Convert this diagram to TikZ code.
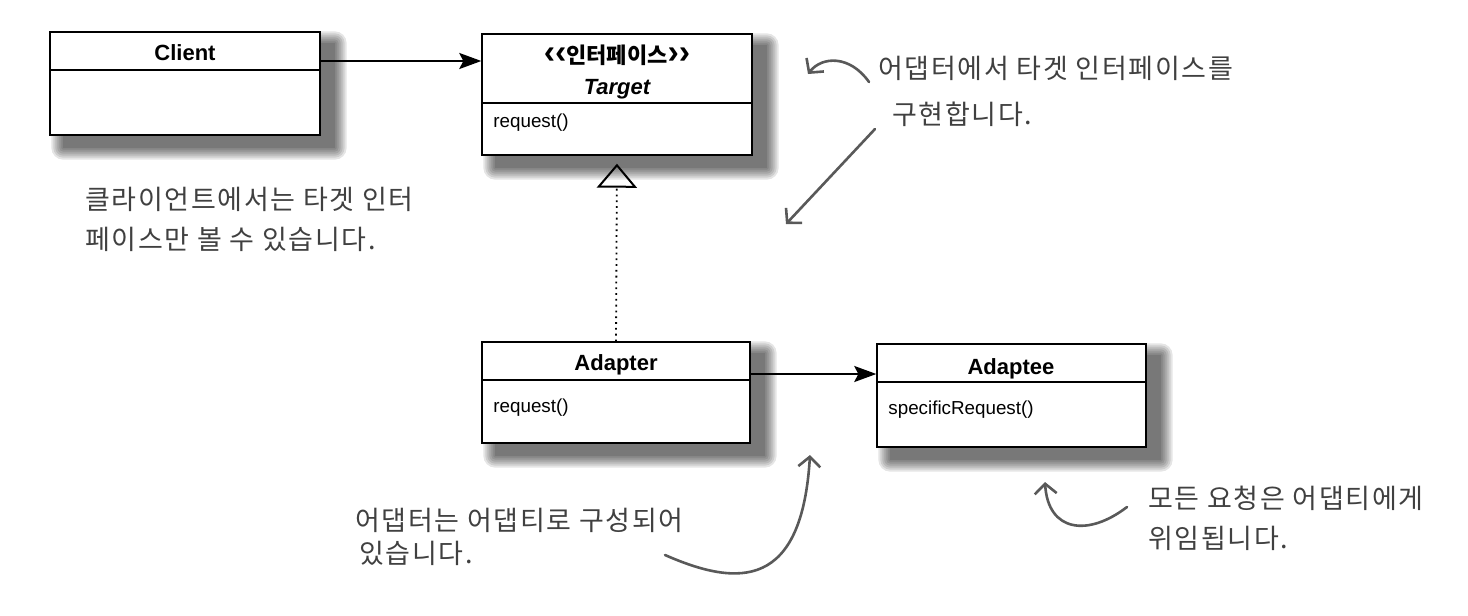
\documentclass[tikz,border=0pt]{standalone}
\usepackage{fontspec}
\setmainfont{Liberation Sans}
\newfontfamily\krfont{Noto Sans CJK KR}
\newfontfamily\handfont{Noto Sans CJK KR}[LetterSpace=6]
\usetikzlibrary{
    arrows.meta,
    backgrounds,
    positioning
}

\tikzset{
    classbox/.style={draw, fill=white, line width=0.7pt, inner sep=0pt},
    classname/.style={font=\fontsize{11}{13}\selectfont\bfseries, inner sep=0pt},
    method/.style={font=\fontsize{9.4}{11}\selectfont, anchor=west, inner sep=0pt},
    note/.style={font=\handfont\fontsize{13.5}{20}\selectfont, text=black!75, align=left, anchor=north west, inner sep=0pt},
    pencil/.style={draw=black!65, line width=1.3pt, line cap=round, -{Straight Barb[length=5pt, width=11pt]}},
    assoc/.style={line width=1pt, -{Stealth[length=11pt, width=8pt, inset=2pt]}},
    realize/.style={dotted, line width=0.9pt, -{Triangle[open, length=12pt, width=20pt, line width=1pt]}, shorten >=4pt},
    shadowlayer/.style={black, opacity=0.1}
}

\newcommand{\gq}[1]{{\fontsize{17}{17}\selectfont #1}}

\begin{document}
\begin{tikzpicture}[x=0.5pt, y=-0.5pt]
    \useasboundingbox (0,0) rectangle (1468,616);

    % classes
    \node[classbox, minimum width=135pt, minimum height=51.5pt] (client) at (185, 83.5) {};
    \node[classbox, minimum width=135pt, minimum height=60.5pt] (target) at (617, 94.5) {};
    \node[classbox, minimum width=134pt, minimum height=50.5pt] (adapter) at (616, 392.5) {};
    \node[classbox, minimum width=134.5pt, minimum height=51.5pt] (adaptee) at (1011.5, 395.5) {};

    % soft shadows
    \begin{pgfonlayer}{background}
        \foreach \b in {client, target, adapter, adaptee}
            \foreach \e in {0,...,6}
                \fill[shadowlayer, rounded corners=\e] ([xshift=7-\e, yshift=-6-\e]\b.south west) rectangle ([xshift=7+\e, yshift=-6+\e]\b.north east);
    \end{pgfonlayer}

    \draw[line width=0.7pt] (client.west |- 0,70) -- (client.east |- 0,70);
    \draw[line width=0.7pt] (target.west |- 0,103) -- (target.east |- 0,103);
    \draw[line width=0.7pt] (adapter.west |- 0,380) -- (adapter.east |- 0,380);
    \draw[line width=0.7pt] (adaptee.west |- 0,382) -- (adaptee.east |- 0,382);

    \node[classname] (clientname) at (185, 53) {Client};
    \node[classname, anchor=base] (stereo) at (617, 63) {\gq{‹‹}{\krfont 인터페이스}\gq{››}};
    \node[classname, font=\fontsize{11}{13}\selectfont\bfseries\itshape] (targetname) at (617, 89) {Target};
    \node[method] (targetop) at (493, 123) {request()};
    \node[classname] (adaptername) at (616, 365) {Adapter};
    \node[method] (adapterop) at (493, 408) {request()};
    \node[classname] (adapteename) at (1011, 369) {Adaptee};
    \node[method] (adapteeop) at (888, 410) {specificRequest()};

    % relations
    \draw[assoc] (client.east |- 0,61) -- (target.west |- 0,61);
    \draw[assoc] (adapter.east |- 0,374) -- (adaptee.west |- 0,374);
    \draw[realize] (adapter.north) -- (target.south);

    % notes
    \node[note] (implnote) at (878, 56) {어댑터에서 타겟 인터페이스를\\[3pt]\hspace*{7pt}구현합니다.};
    \node[note] (clientnote) at (85, 187) {클라이언트에서는 타겟 인터\\페이스만 볼 수 있습니다.};
    \node[note, font=\handfont\fontsize{13.5}{16.5}\selectfont] (composenote) at (355, 508) {어댑터는 어댑티로 구성되어\\\hspace*{2pt}있습니다.};
    \node[note] (delegnote) at (1148, 486) {모든 요청은 어댑티에게\\위임됩니다.};

    \coordinate (c1) at (808, 74);
    \coordinate (c2) at (786, 224);
    \coordinate (c3) at (810, 455);
    \coordinate (c4) at (1045, 482);

    \draw[pencil] (869, 82) .. controls (850, 55) and (822, 56) .. (c1);
    \draw[pencil] (875, 129) -- (c2);
    \draw[pencil] (665, 555) .. controls (740, 588) and (802, 588) .. (c3);
    \draw[pencil] (1127, 507) .. controls (1088, 537) and (1048, 532) .. (c4);
\end{tikzpicture}
\end{document}
